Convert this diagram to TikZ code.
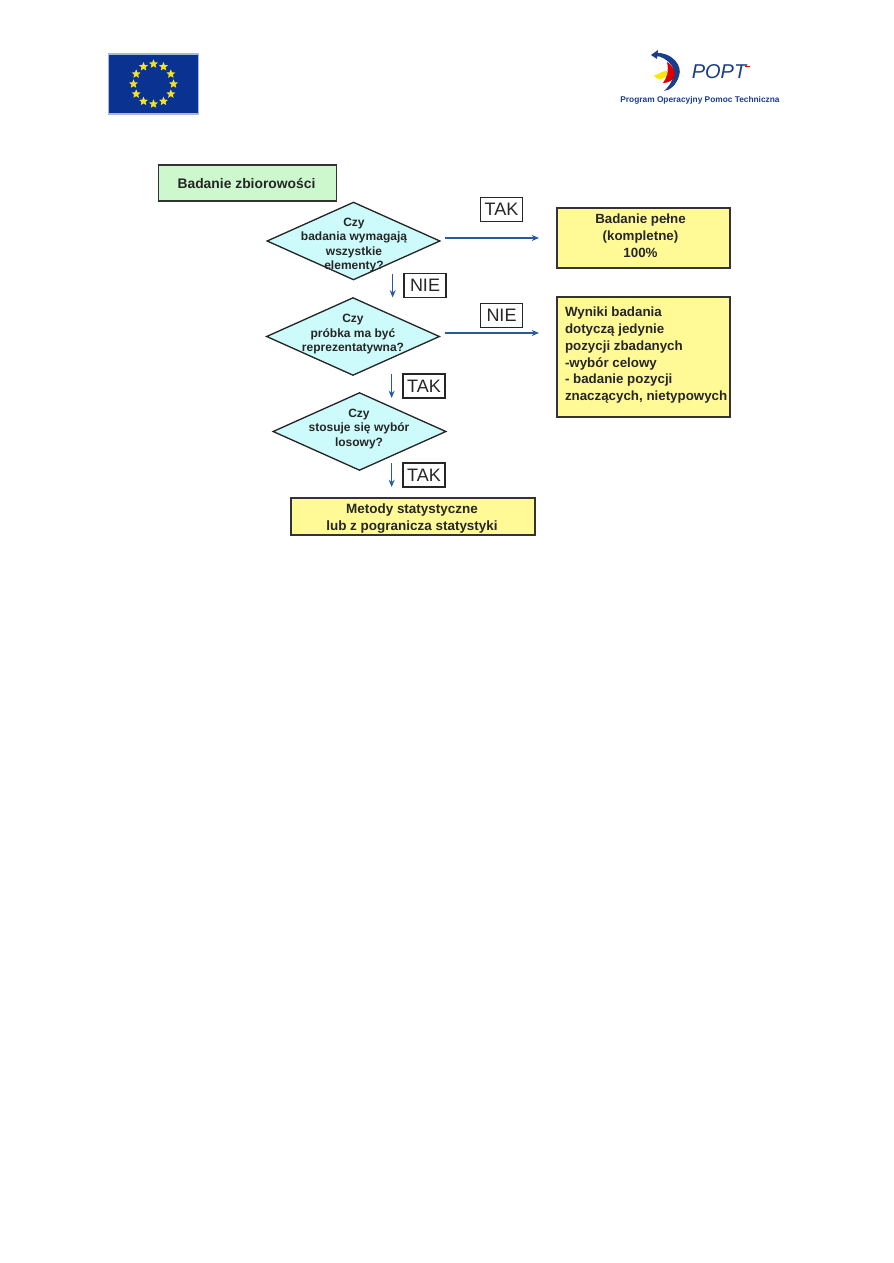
\documentclass[tikz,border=0pt]{standalone}
\usepackage{fontspec}
\setmainfont{Liberation Sans}
\usepackage{xcolor}
\definecolor{eublue}{RGB}{10, 50, 145}
\definecolor{eustar}{RGB}{245, 225, 40}
\definecolor{poptblue}{RGB}{25, 60, 140}
\definecolor{startgreen}{RGB}{205, 247, 205}
\definecolor{decblue}{RGB}{205, 250, 250}
\definecolor{resyellow}{RGB}{255, 250, 150}
\definecolor{flowblue}{RGB}{40, 90, 160}
\usetikzlibrary{
    shapes.geometric,
    arrows.meta,
    positioning,
    calc
}

\begin{document}
\begin{tikzpicture}[
    x=0.75pt, y=-0.75pt,
    >={Stealth[length=5.5pt, width=4.5pt]},
    every node/.style={outer sep=0pt},
    box/.style={draw=black!80, line width=1.4pt, inner sep=0pt},
    boxtext/.style={font=\fontsize{10}{12.6}\selectfont\bfseries, text=black!85, inner sep=0pt},
    decision/.style={diamond, draw=black!85, line width=1pt, fill=decblue, inner sep=0pt, minimum width=129.5pt, minimum height=58pt},
    dectext/.style={font=\fontsize{9}{10.9}\selectfont\bfseries, text=black!85, align=center},
    answer/.style={draw=black!85, line width=1.2pt, fill=white, minimum width=31.5pt, minimum height=18pt, inner sep=0pt, text=black!85, font=\fontsize{13.5}{16}\selectfont},
    flow/.style={->, line width=1pt, flowblue}
]
\useasboundingbox (0,0) rectangle (893,1263);

% ==================== EU FLAG ====================
\node[fill=eublue, draw=eublue!35, line width=0.8pt, minimum width=68pt, minimum height=45pt] (flag) at (153.5,84) {};
\foreach \k in {0,30,...,330} {
    \node[star, star points=5, star point ratio=2.2, fill=eustar, inner sep=0pt, minimum size=7pt] (star\k) at ([shift={(\k:15pt)}]flag.center) {};
}

% ==================== POPT LOGO ====================
\fill[poptblue] (656,53) .. controls (672,52) and (683,66) .. (679,76) .. controls (676,85) and (671,90) .. (664,91) .. controls (672,84) and (676,74) .. (672,66) .. controls (668,60) and (661,56) .. (656,56) -- cycle;
\fill[poptblue] (651,55) -- (658,50) -- (657,59) -- cycle;
\fill[red!85!black] (667,62) .. controls (674,66) and (676,74) .. (674,77) .. controls (672,81) and (668,83) .. (663,83) .. controls (667,78) and (669,70) .. (667,62) -- cycle;
\fill[yellow!90!orange] (654,75) .. controls (658,76) and (662,70) .. (667,71) .. controls (669,75) and (664,80) .. (658,79) .. controls (656,78) and (655,77) .. (654,75) -- cycle;
\node[font=\fontsize{15}{15}\selectfont\itshape, text=poptblue, inner sep=0pt] (popt) at (719,72) {POPT};
\fill[red!85!black] (745,66) rectangle (750,67.5);
\node[font=\fontsize{6.25}{8}\selectfont\bfseries, text=poptblue, inner sep=0pt] (poptname) at (700,100) {Program Operacyjny Pomoc Techniczna};

% ==================== FLOW CHART ====================
\node[box, fill=startgreen, minimum width=133.5pt, minimum height=27pt] (start) at (247.5,183) {};
\node[boxtext, font=\fontsize{10.4}{12.7}\selectfont\bfseries] (starttext) at (246.5,183) {Badanie zbiorowości};

\foreach \k/\xpos/\ypos in {1/353.5/241, 2/353/336.5, 3/359.5/431.5} {
    \node[decision] (dec\k) at (\xpos,\ypos) {};
}
\node[dectext] (dectext1) at (354,245) {Czy\\badania wymagają\\wszystkie\\elementy?};
\node[dectext] (dectext2) at (353,334.5) {Czy\\próbka ma być\\reprezentatywna?};
\node[dectext] (dectext3) at (359,429) {Czy\\stosuje się wybór\\losowy?};

\node[box, fill=resyellow, minimum width=129.5pt, minimum height=45pt] (full) at (643.5,238) {};
\node[boxtext, align=center] (fulltext) at (640.5,235.5) {Badanie pełne\\(kompletne)\\100\%};
\node[box, fill=resyellow, minimum width=129.5pt, minimum height=90pt] (partial) at (643.5,357) {};
\node[boxtext, align=left, anchor=north west] (partialtext) at (565,307) {Wyniki badania\\dotyczą jedynie\\pozycji zbadanych\\-wybór celowy\\- badanie pozycji\\znaczących, nietypowych};
\node[box, fill=resyellow, minimum width=183pt, minimum height=28pt] (stat) at (413,516.5) {};
\node[boxtext, font=\fontsize{10.1}{12.7}\selectfont\bfseries, align=center] (stattext) at (412,519) {Metody statystyczne\\lub z pogranicza statystyki};

% ==================== ANSWER LABELS ====================
\foreach \name/\txt/\xpos/\ypos in {tak1/TAK/501.5/209.5, nie1/NIE/425/285.5, nie2/NIE/501.5/315.5, tak2/TAK/424/386, tak3/TAK/424/475} {
    \node[answer] (\name) at (\xpos,\ypos) {\txt};
}

% ==================== CONNECTORS ====================
\coordinate (tip1) at (539,238);
\coordinate (tip2) at (539,333);
\draw[flow] ([xshift=3.5pt]dec1.east |- tip1) -- (tip1);
\draw[flow] ([xshift=4pt]dec2.east |- tip2) -- (tip2);
\draw[flow] ([xshift=-8.5pt]nie1.north west) -- ([xshift=-8.5pt]nie1.south west);
\draw[flow] ([xshift=-8.5pt]tak2.north west) -- ([xshift=-8.5pt]tak2.south west);
\draw[flow] ([xshift=-8.5pt]tak3.north west) -- ([xshift=-8.5pt]tak3.south west);

\end{tikzpicture}
\end{document}
